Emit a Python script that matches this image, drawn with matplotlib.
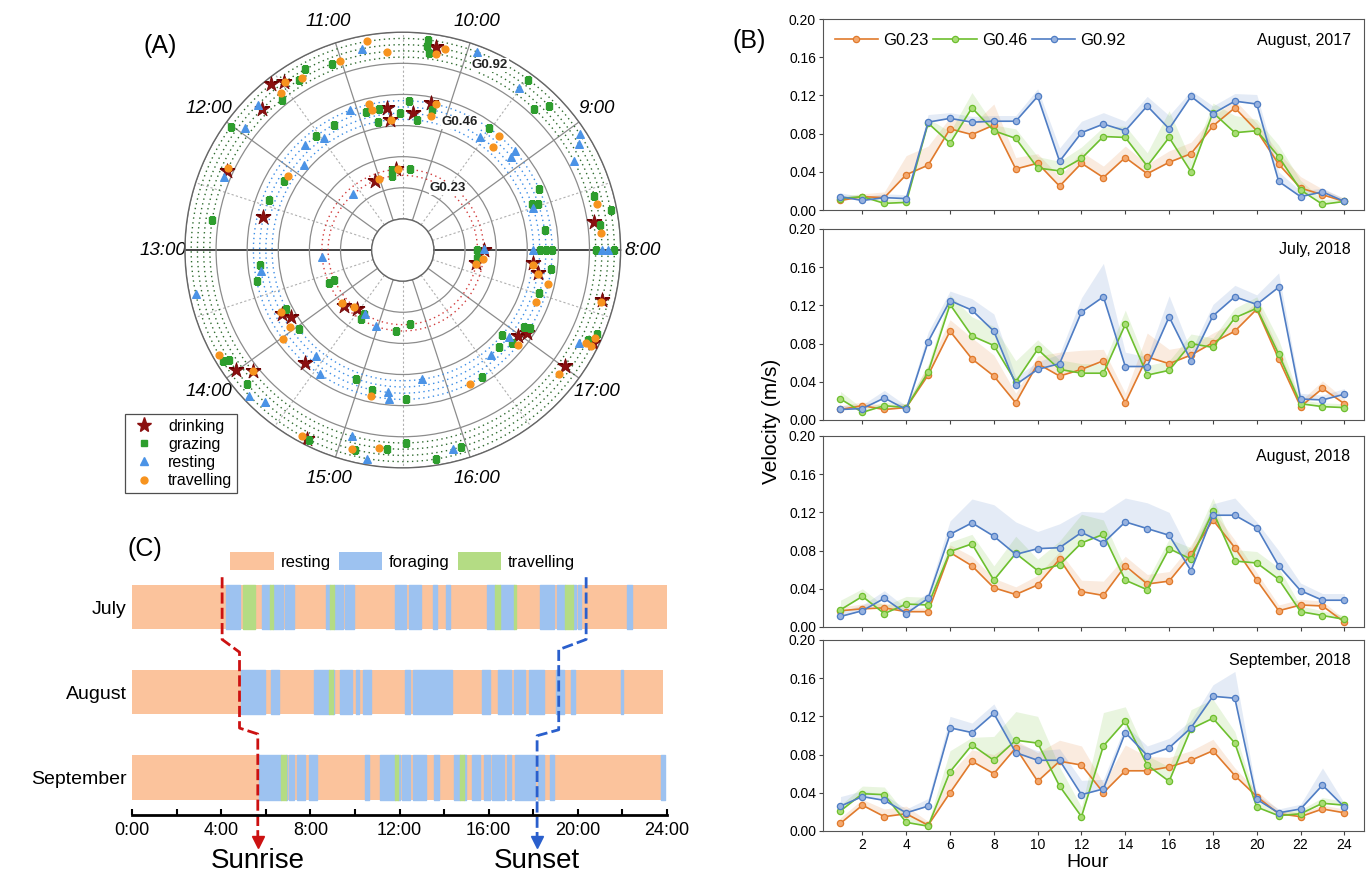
import numpy as np
import matplotlib.pyplot as plt
from matplotlib.lines import Line2D
from matplotlib.patches import Patch

plt.rcParams['font.family'] = ['Liberation Sans', 'DejaVu Sans']

# ---------------- (A) behaviour observations: clock hour, ring radius ----------------
clock_hours = [8, 9, 10, 11, 12, 13, 14, 15, 16, 17]
ring_g023 = [2.4, 2.6]
ring_g046 = [4.2, 4.4, 4.6, 4.8]
ring_g092 = [6.2, 6.4, 6.6, 6.8]

drink_h = [10.24, 10.20, 10.38, 8.23, 8.0,
           11.57, 11.48, 11.75, 12.33, 10.68, 10.66, 12.63, 11.11, 10.64,
           14.21, 14.44, 13.78, 13.86, 14.36, 13.99, 14.08, 14.75,
           17.72, 17.84, 17.73, 16.98, 17.06, 17.61, 17.28, 17.01]
drink_r = [6.6, 4.8, 4.4, 6.2, 2.6,
           6.8, 6.6, 6.4, 6.2, 4.6, 4.2, 4.6, 2.4, 2.6,
           2.6, 2.4, 4.4, 4.2, 4.8, 6.6, 6.2, 6.8,
           2.4, 4.2, 4.4, 4.6, 4.8, 6.6, 6.8, 6.4]

graze_h = [10.31, 10.31, 10.29, 9.49, 9.31, 9.24, 10.43, 10.17, 10.33, 9.52, 8.67, 8.54,
           8.52, 8.22, 8.44, 8.30, 8.20, 10.36, 8.0, 8.0, 8.0, 8.0, 8.0, 8.0,
           11.08, 11.29, 11.37, 11.58, 12.01, 12.75, 10.91, 10.76, 10.80, 11.30, 11.53,
           12.16, 12.43, 10.71, 10.74, 10.53,
           13.17, 13.33, 13.66, 13.67, 14.64, 14.62, 15.37, 13.75, 14.04, 13.88, 13.90,
           14.13, 14.94, 15.15, 14.77, 15.13, 15.37,
           17.82, 15.66, 17.80, 17.52, 17.10, 17.13, 16.88, 16.88, 16.74, 16.39, 15.53,
           17.28, 17.35, 15.53, 15.96, 15.75]
graze_r = [6.8, 6.6, 6.4, 6.8, 6.2, 6.6, 4.8, 4.6, 4.2, 4.8, 4.8, 4.4,
           4.6, 4.6, 6.4, 6.8, 6.4, 2.6, 2.4, 4.4, 4.6, 4.8, 6.2, 6.8,
           6.4, 6.6, 6.4, 6.2, 6.8, 6.2, 4.6, 4.6, 4.2, 4.6, 4.6,
           4.4, 4.6, 2.6, 2.4, 4.4,
           4.6, 4.8, 2.4, 2.6, 2.6, 2.4, 2.6, 4.2, 4.2, 6.8, 6.6,
           6.6, 4.4, 4.6, 6.8, 6.6, 6.4,
           2.4, 2.4, 4.8, 4.6, 4.6, 4.8, 4.2, 4.6, 4.4, 4.8, 4.8,
           6.6, 6.8, 6.2, 6.6, 6.8]

rest_h = [9.93, 9.51, 8.92, 8.86, 8.76, 9.54, 9.13, 9.15, 8.50, 8.0, 8.02, 8.0, 8.0,
          10.82, 11.75, 11.95, 12.38, 11.08, 11.47, 11.69, 11.87, 11.65,
          13.33, 13.23, 13.13, 14.96, 14.65, 14.41, 14.56, 15.34, 15.35, 14.21, 14.33,
          15.08, 15.23,
          16.91, 16.61, 15.73, 17.23, 15.89]
rest_r = [6.8, 6.4, 6.8, 6.6, 6.2, 4.4, 4.6, 4.8, 4.4, 4.2, 2.6, 6.4, 6.6,
          6.6, 6.6, 6.4, 6.2, 4.8, 4.4, 4.6, 4.2, 2.4,
          6.8, 4.6, 2.6, 2.6, 2.4, 4.4, 4.8, 4.6, 4.8, 6.8, 6.6,
          6.2, 6.8,
          4.4, 4.4, 4.2, 6.4, 6.6]

travel_h = [10.17, 10.23, 10.14, 10.17, 9.39, 9.36, 8.37, 8.14,
            10.77, 10.63, 11.01, 11.34, 11.47, 11.55, 12.30, 10.86, 10.84, 10.64, 12.09,
            11.02, 10.59,
            14.14, 14.37, 13.75, 13.95, 14.02, 13.83, 14.08, 15.16, 14.71, 15.10, 15.31,
            17.83, 17.70, 17.82, 17.72, 17.63, 17.41, 16.90, 16.24, 17.59, 17.25, 17.25,
            17.32, 16.93]
travel_r = [6.6, 6.4, 4.8, 4.4, 4.8, 4.4, 6.4, 6.4,
            6.8, 6.4, 6.4, 6.4, 6.6, 6.4, 6.2, 4.8, 4.6, 4.2, 4.4,
            2.4, 2.6,
            2.6, 2.4, 4.4, 4.4, 4.8, 6.8, 6.2, 4.8, 6.8, 6.6, 6.4,
            2.6, 2.4, 4.2, 4.4, 4.8, 4.6, 4.8, 4.8, 6.6, 6.6, 6.8,
            6.8, 6.4]

# ---------------- (B) hourly velocity (m/s) ----------------
hours = np.arange(1, 25)

aug17_g023 = [.010, .014, .013, .037, .047, .085, .079, .089, .043, .049, .025, .049,
              .034, .055, .038, .050, .059, .088, .107, .083, .048, .023, .016, .009]
aug17_g046 = [.012, .014, .007, .008, .091, .070, .107, .083, .075, .044, .041, .054,
              .077, .076, .046, .076, .040, .102, .081, .083, .056, .021, .006, .009]
aug17_g092 = [.014, .010, .013, .012, .092, .096, .092, .093, .093, .119, .051, .081,
              .090, .083, .109, .085, .119, .101, .114, .111, .030, .014, .019, .009]
aug17_g023_err = [.003, .003, .006, .020, .020, .012, .010, .022, .012, .010, .010, .012,
                  .012, .012, .010, .012, .012, .010, .008, .008, .012, .012, .006, .003]
aug17_g046_err = [.003, .003, .004, .004, .005, .012, .016, .006, .010, .012, .010, .012,
                  .010, .012, .014, .028, .012, .010, .018, .012, .012, .010, .005, .003]
aug17_g092_err = [.004, .004, .004, .004, .008, .006, .006, .006, .006, .008, .014, .012,
                  .012, .010, .010, .014, .006, .008, .008, .010, .010, .006, .004, .003]

jul18_g023 = [.011, .015, .011, .013, .047, .093, .064, .046, .018, .059, .046, .053,
              .062, .018, .066, .059, .068, .081, .093, .116, .064, .014, .033, .017]
jul18_g046 = [.022, .008, .015, .013, .050, .121, .088, .078, .040, .074, .053, .049,
              .049, .100, .047, .052, .080, .076, .107, .117, .069, .017, .014, .013]
jul18_g092 = [.011, .012, .023, .011, .082, .125, .115, .093, .037, .053, .059, .113,
              .129, .056, .056, .108, .062, .109, .129, .121, .139, .022, .021, .027]
jul18_g023_err = [.004, .004, .004, .004, .010, .012, .022, .022, .010, .008, .025, .020,
                  .012, .010, .025, .015, .010, .010, .010, .008, .010, .006, .008, .005]
jul18_g046_err = [.008, .004, .004, .004, .008, .010, .020, .020, .022, .010, .010, .010,
                  .010, .015, .010, .010, .010, .010, .010, .012, .015, .004, .004, .004]
jul18_g092_err = [.004, .004, .008, .004, .010, .010, .012, .018, .008, .008, .010, .015,
                  .035, .015, .010, .022, .010, .012, .012, .010, .015, .006, .005, .006]

aug18_g023 = [.017, .019, .020, .016, .016, .078, .064, .041, .034, .044, .071, .037,
              .033, .064, .045, .048, .076, .112, .083, .049, .017, .023, .022, .005]
aug18_g046 = [.018, .032, .014, .024, .023, .079, .087, .049, .077, .059, .065, .088,
              .097, .049, .039, .082, .071, .121, .069, .067, .050, .016, .012, .008]
aug18_g092 = [.011, .017, .030, .014, .030, .097, .109, .095, .076, .082, .083, .099,
              .088, .110, .103, .096, .059, .117, .117, .104, .064, .038, .028, .028]
aug18_g023_err = [.004, .005, .005, .004, .004, .008, .010, .010, .008, .010, .008, .012,
                  .015, .010, .010, .010, .010, .010, .008, .008, .006, .006, .005, .003]
aug18_g046_err = [.010, .008, .008, .008, .008, .010, .010, .015, .018, .012, .025, .030,
                  .015, .012, .010, .010, .012, .014, .012, .012, .012, .006, .005, .004]
aug18_g092_err = [.005, .006, .008, .006, .006, .014, .025, .033, .034, .018, .025, .022,
                  .032, .025, .027, .024, .016, .012, .018, .006, .016, .008, .007, .007]

sep18_g023 = [.008, .027, .015, .018, .006, .040, .073, .060, .087, .052, .073, .069,
              .040, .063, .063, .067, .074, .084, .058, .036, .018, .015, .023, .019]
sep18_g046 = [.021, .039, .038, .009, .005, .062, .090, .074, .095, .092, .047, .015,
              .089, .115, .069, .052, .107, .118, .092, .025, .016, .018, .029, .027]
sep18_g092 = [.026, .036, .032, .019, .026, .108, .103, .123, .082, .074, .074, .038,
              .044, .103, .079, .087, .108, .141, .139, .033, .019, .023, .048, .025]
sep18_g023_err = [.006, .006, .008, .008, .004, .020, .012, .020, .008, .030, .022, .020,
                  .010, .027, .015, .010, .010, .012, .008, .006, .004, .004, .004, .004]
sep18_g046_err = [.006, .008, .008, .008, .004, .022, .008, .025, .030, .028, .020, .010,
                  .035, .015, .010, .015, .020, .020, .012, .006, .004, .004, .006, .004]
sep18_g092_err = [.010, .006, .006, .004, .008, .012, .010, .010, .010, .010, .012, .015,
                  .010, .008, .010, .010, .008, .012, .028, .005, .004, .005, .018, .004]

# ---------------- (C) activity budget, (start, end) in hours ----------------
months_c = ['July', 'August', 'September']
day_end = [24.0, 23.8, 23.9]
jul_forage = [(4.2, 4.82), (5.81, 6.2), (6.34, 6.77), (6.87, 7.26), (8.68, 8.88), (9.07, 9.46),
              (9.56, 9.95), (11.8, 12.29), (12.43, 12.98), (13.5, 13.66), (14.09, 14.28),
              (15.94, 16.29), (16.49, 17.13), (18.28, 18.93), (19.06, 19.41), (19.8, 19.9),
              (20.0, 20.14), (22.2, 22.44)]
jul_travel = [(4.97, 5.52), (6.2, 6.34), (8.88, 9.07), (16.29, 16.49), (17.13, 17.21), (19.41, 19.8)]
aug_forage = [(4.88, 5.95), (6.24, 6.6), (8.14, 8.82), (9.01, 9.07), (9.31, 9.85), (10.05, 10.2),
              (10.38, 10.73), (12.25, 12.45), (12.62, 14.34), (15.71, 16.06), (16.43, 16.98),
              (17.13, 17.62), (17.81, 18.5), (19.02, 19.38), (19.67, 19.86), (21.95, 22.01)]
aug_travel = [(8.82, 9.01)]
sep_forage = [(5.7, 6.69), (6.89, 6.97), (7.06, 7.26), (7.38, 7.77), (7.94, 8.29), (10.44, 10.63),
              (11.12, 11.8), (11.94, 12.0), (12.1, 12.49), (12.62, 13.17), (13.56, 13.76),
              (14.44, 14.73), (14.89, 14.97), (15.26, 15.61), (15.8, 16.06), (16.16, 16.68),
              (16.82, 17.01), (17.17, 18.09), (18.2, 18.5), (18.73, 18.93), (23.75, 23.9)]
sep_travel = [(6.69, 6.89), (11.8, 11.94), (14.73, 14.89)]

sunrise_x = [4.04, 4.04, 4.82, 4.82, 5.64, 5.64]
sunrise_y = [2.35, 1.62, 1.47, 0.58, 0.51, -0.70]
sunset_x = [20.37, 20.37, 19.14, 19.14, 18.17, 18.17]
sunset_y = [2.35, 1.62, 1.50, 0.56, 0.49, -0.70]

fig = plt.figure(figsize=(13.7, 8.77), dpi=100)


def to_theta(h):
    return (np.asarray(h, dtype=float) - 8) / 10 * 2 * np.pi


# ================= (A) =================
axA = fig.add_axes([0.135, 0.4664, 0.318, 0.497], projection='polar')
axA.set_rorigin(0)
axA.set_ylim(1, 7)
axA.set_xticks(to_theta(clock_hours))
axA.set_xticklabels([f'{h}:00' for h in clock_hours], fontsize=13.5, style='italic')
axA.set_xticks(to_theta(clock_hours) + np.pi / 10, minor=True)
axA.set_yticks(range(1, 8))
axA.set_yticklabels([])
axA.tick_params(axis='x', which='both', length=0, pad=9)
axA.grid(True, which='major', color='#8c8c8c', lw=0.9, ls='-')
axA.xaxis.grid(True, which='minor', color='#b0b0b0', lw=0.8, ls=(0, (2, 2)))
gl = axA.xaxis.get_gridlines()
gl[0].set_color('#444444')
gl[0].set_linewidth(1.4)
gl[5].set_color('#444444')
gl[5].set_linewidth(1.4)
for sp in axA.spines.values():
    sp.set_color('#666666')
    sp.set_linewidth(1.0)

th = np.linspace(0, 2 * np.pi, 500)
for r in ring_g023:
    axA.plot(th, np.full_like(th, r), ls=(0, (1, 2.5)), color='#d23c3c', lw=1.0)
for r in ring_g046:
    axA.plot(th, np.full_like(th, r), ls=(0, (1, 2.5)), color='#3d8ee6', lw=1.0)
for r in ring_g092:
    axA.plot(th, np.full_like(th, r), ls=(0, (1, 2.5)), color='#2f6b2f', lw=1.0)

axA.scatter(to_theta(drink_h), drink_r, marker='*', s=130, color='#8b1010',
            edgecolors='#6b0000', linewidths=0.5, zorder=3)
axA.scatter(to_theta(graze_h), graze_r, marker='s', s=20, color='#2e9e2e', zorder=4)
axA.scatter(to_theta(rest_h), rest_r, marker='^', s=30, color='#4b93e6', zorder=4)
axA.scatter(to_theta(travel_h), travel_r, marker='o', s=24, color='#f7931e', zorder=5)

for lab, h, r in [('G0.23', 9.49, 2.46), ('G0.46', 9.83, 4.5), ('G0.92', 9.8, 6.57)]:
    axA.text(to_theta(h), r, lab, ha='center', va='center', fontsize=9.5, fontweight='bold',
             color='#222222', bbox=dict(facecolor='white', edgecolor='none', pad=0.5), zorder=6)

handlesA = [Line2D([], [], ls='', marker='*', ms=11, color='#8b1010'),
            Line2D([], [], ls='', marker='s', ms=4.5, color='#2e9e2e'),
            Line2D([], [], ls='', marker='^', ms=5.5, color='#4b93e6'),
            Line2D([], [], ls='', marker='o', ms=5, color='#f7931e')]
legA = fig.legend(handlesA, ['drinking', 'grazing', 'resting', 'travelling'],
                  loc='lower left', bbox_to_anchor=(125 / 1370, 1 - 493 / 877),
                  fontsize=11.5, frameon=True, fancybox=False, edgecolor='#222222',
                  borderpad=0.3, labelspacing=0.2, handletextpad=0.6, handlelength=1.8,
                  borderaxespad=0)
legA.get_frame().set_linewidth(0.9)

fig.text(0.117, 0.947, '(A)', fontsize=18, ha='center', va='center')

# ================= (B) =================
c023, c046, c092 = '#e07a2c', '#6dbf2e', '#4f7dc4'
f023, f046, f092 = '#f4a86e', '#a9dc76', '#97b2df'
panels = [('August, 2017', aug17_g023, aug17_g046, aug17_g092, aug17_g023_err, aug17_g046_err, aug17_g092_err),
          ('July, 2018', jul18_g023, jul18_g046, jul18_g092, jul18_g023_err, jul18_g046_err, jul18_g092_err),
          ('August, 2018', aug18_g023, aug18_g046, aug18_g092, aug18_g023_err, aug18_g046_err, aug18_g092_err),
          ('September, 2018', sep18_g023, sep18_g046, sep18_g092, sep18_g023_err, sep18_g046_err, sep18_g092_err)]
bottoms = [0.7605, 0.5211, 0.2851, 0.0525]

for i, (title, a, b, c, ea, eb, ec) in enumerate(panels):
    ax = fig.add_axes([0.6007, bottoms[i], 0.3950, 0.2178])
    for vals, err, col, fc, lab in [(a, ea, c023, f023, 'G0.23'),
                                    (b, eb, c046, f046, 'G0.46'),
                                    (c, ec, c092, f092, 'G0.92')]:
        vals = np.array(vals)
        ax.fill_between(hours, vals, vals + np.array(err), color=col, alpha=0.15, lw=0)
        ax.plot(hours, vals, color=col, lw=1.2, marker='o', ms=4.5, mfc=fc, mec=col,
                mew=0.9, label=lab)
    ax.set_xlim(0.2, 24.9)
    ax.set_ylim(0, 0.2)
    ax.set_yticks(np.arange(0, 0.21, 0.04))
    ax.set_yticklabels([f'{v:.2f}' for v in np.arange(0, 0.21, 0.04)])
    ax.set_xticks(range(2, 25, 2))
    if i < 3:
        ax.set_xticklabels([])
    ax.tick_params(direction='out', length=3, labelsize=10, color='#444444', pad=2)
    for sp in ax.spines.values():
        sp.set_color('#555555')
    ax.text(0.975, 0.89, title, transform=ax.transAxes, ha='right', va='center', fontsize=11.5)
    if i == 0:
        ax.legend(loc='upper left', ncol=3, frameon=False, fontsize=12, handlelength=2.6,
                  columnspacing=0.3, handletextpad=0.3, borderaxespad=0.3,
                  bbox_to_anchor=(0.0, 0.99))

fig.text(0.5635, 0.52, 'Velocity (m/s)', rotation=90, ha='center', va='center', fontsize=15)
fig.text(0.794, 0.017, 'Hour', ha='center', va='center', fontsize=14)
fig.text(0.547, 0.953, '(B)', fontsize=18, ha='center', va='center')

# ================= (C) =================
c_rest, c_forage, c_travel = '#fbc39c', '#9dc2f0', '#b4dc84'
axC = fig.add_axes([0.0964, 0.0707, 0.3905, 0.310])
rows = [2, 1, 0]
for y, end, forage, travel in zip(rows, day_end, [jul_forage, aug_forage, sep_forage],
                                  [jul_travel, aug_travel, sep_travel]):
    axC.barh(y, end, height=0.52, left=0, color=c_rest)
    axC.broken_barh([(s, e - s) for s, e in forage], (y - 0.26, 0.52), color=c_forage)
    axC.broken_barh([(s, e - s) for s, e in travel], (y - 0.26, 0.52), color=c_travel)

axC.set_xlim(0, 24)
axC.set_ylim(-0.44, 2.75)
axC.set_yticks(rows)
axC.set_yticklabels(months_c, fontsize=14)
axC.set_xticks(range(0, 25, 4))
axC.set_xticklabels([f'{h}:00' for h in range(0, 25, 4)], fontsize=13)
axC.set_xticks(range(0, 25, 2), minor=True)
axC.tick_params(axis='y', length=0, pad=4)
axC.tick_params(axis='x', which='both', direction='in', length=4, width=1.5, pad=5)
for s in ['top', 'right', 'left']:
    axC.spines[s].set_visible(False)
axC.spines['bottom'].set_linewidth(2)

axC.plot(sunrise_x, sunrise_y, color='#cc1111', lw=2, ls=(0, (4, 1.5)), clip_on=False)
axC.plot(sunrise_x[-1], sunrise_y[-1] - 0.06, marker='v', ms=8, color='#cc1111', clip_on=False)
axC.plot(sunset_x, sunset_y, color='#2a5fcc', lw=2, ls=(0, (4, 1.5)), clip_on=False)
axC.plot(sunset_x[-1], sunset_y[-1] - 0.06, marker='v', ms=8, color='#2a5fcc', clip_on=False)
axC.text(sunrise_x[-1], -0.98, 'Sunrise', ha='center', va='center', fontsize=20)
axC.text(sunset_x[-1], -0.98, 'Sunset', ha='center', va='center', fontsize=20)

handlesC = [Patch(facecolor=c_rest), Patch(facecolor=c_forage), Patch(facecolor=c_travel)]
fig.legend(handlesC, ['resting', 'foraging', 'travelling'], loc='center',
           bbox_to_anchor=(0.294, 0.36), ncol=3, frameon=False, fontsize=12,
           handlelength=2.6, handleheight=1.3, handletextpad=0.4, columnspacing=0.5)

fig.text(0.106, 0.374, '(C)', fontsize=18, ha='center', va='center')

fig.savefig('out.png', dpi=100)
